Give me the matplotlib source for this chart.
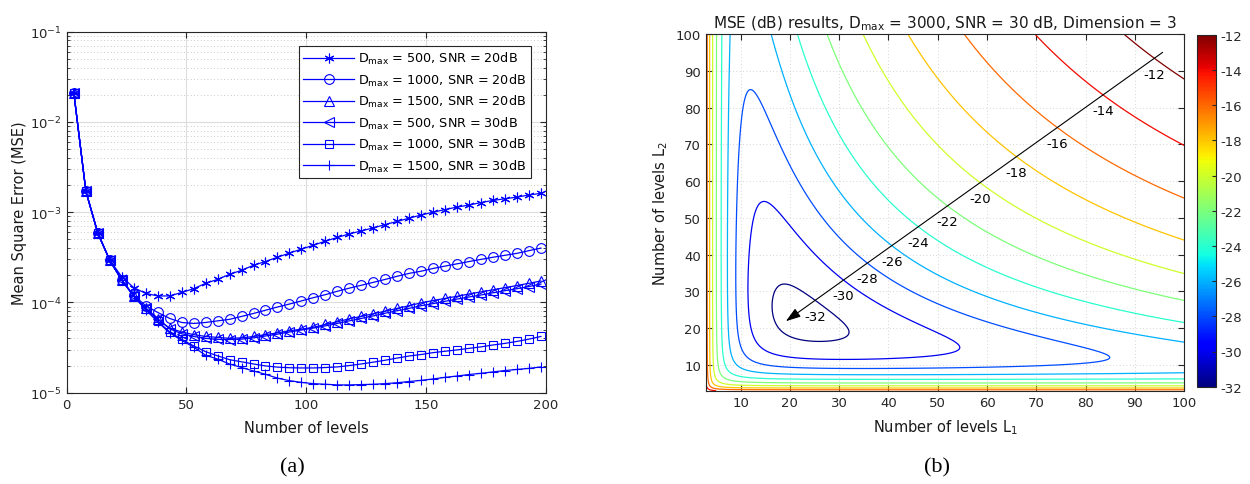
import numpy as np
import matplotlib
matplotlib.use('Agg')
import matplotlib.pyplot as plt
from matplotlib.colors import Normalize
from matplotlib.cm import ScalarMappable

plt.rcParams['font.family'] = ['DejaVu Sans']
plt.rcParams['axes.unicode_minus'] = False

# ---------------- (a) MSE vs number of levels ----------------
n_levels = np.arange(3, 199, 5)  # 3, 8, ..., 198

mse_500_20 = [2.08e-2, 1.71e-3, 5.85e-4, 2.95e-4, 1.92e-4, 1.46e-4, 1.26e-4, 1.18e-4, 1.18e-4, 1.29e-4,
              1.42e-4, 1.63e-4, 1.80e-4, 2.05e-4, 2.27e-4, 2.58e-4, 2.84e-4, 3.17e-4, 3.52e-4, 3.90e-4,
              4.30e-4, 4.78e-4, 5.25e-4, 5.75e-4, 6.20e-4, 6.70e-4, 7.30e-4, 7.90e-4, 8.60e-4, 9.30e-4,
              1.00e-3, 1.07e-3, 1.14e-3, 1.20e-3, 1.28e-3, 1.35e-3, 1.41e-3, 1.47e-3, 1.55e-3, 1.62e-3]
mse_1000_20 = [2.08e-2, 1.71e-3, 5.85e-4, 2.92e-4, 1.77e-4, 1.20e-4, 9.20e-5, 7.75e-5, 6.65e-5, 6.00e-5,
               5.85e-5, 6.00e-5, 6.25e-5, 6.50e-5, 7.00e-5, 7.55e-5, 8.20e-5, 8.90e-5, 9.60e-5, 1.04e-4,
               1.13e-4, 1.22e-4, 1.33e-4, 1.44e-4, 1.55e-4, 1.67e-4, 1.80e-4, 1.95e-4, 2.10e-4, 2.22e-4,
               2.38e-4, 2.53e-4, 2.68e-4, 2.84e-4, 3.00e-4, 3.17e-4, 3.33e-4, 3.50e-4, 3.75e-4, 4.00e-4]
mse_1500_20 = [2.08e-2, 1.71e-3, 5.85e-4, 2.92e-4, 1.77e-4, 1.18e-4, 8.60e-5, 6.50e-5, 5.20e-5, 4.70e-5,
               4.40e-5, 4.20e-5, 4.10e-5, 4.00e-5, 4.05e-5, 4.20e-5, 4.40e-5, 4.60e-5, 4.85e-5, 5.05e-5,
               5.30e-5, 5.70e-5, 6.10e-5, 6.60e-5, 7.00e-5, 7.50e-5, 8.00e-5, 8.60e-5, 9.20e-5, 9.90e-5,
               1.05e-4, 1.11e-4, 1.17e-4, 1.24e-4, 1.31e-4, 1.38e-4, 1.46e-4, 1.54e-4, 1.63e-4, 1.73e-4]
mse_500_30 = [2.08e-2, 1.71e-3, 5.85e-4, 2.92e-4, 1.77e-4, 1.18e-4, 8.70e-5, 6.60e-5, 5.10e-5, 4.50e-5,
              4.20e-5, 4.00e-5, 3.90e-5, 3.88e-5, 3.92e-5, 4.05e-5, 4.25e-5, 4.45e-5, 4.70e-5, 4.95e-5,
              5.20e-5, 5.50e-5, 5.85e-5, 6.25e-5, 6.65e-5, 7.10e-5, 7.60e-5, 8.10e-5, 8.60e-5, 9.20e-5,
              9.70e-5, 1.03e-4, 1.09e-4, 1.15e-4, 1.21e-4, 1.28e-4, 1.35e-4, 1.42e-4, 1.50e-4, 1.60e-4]
mse_1000_30 = [2.08e-2, 1.71e-3, 5.85e-4, 2.92e-4, 1.77e-4, 1.17e-4, 8.40e-5, 6.20e-5, 4.70e-5, 3.90e-5,
               3.30e-5, 2.85e-5, 2.56e-5, 2.32e-5, 2.20e-5, 2.08e-5, 1.98e-5, 1.92e-5, 1.89e-5, 1.88e-5,
               1.88e-5, 1.90e-5, 1.93e-5, 2.00e-5, 2.08e-5, 2.18e-5, 2.29e-5, 2.42e-5, 2.55e-5, 2.65e-5,
               2.78e-5, 2.88e-5, 2.98e-5, 3.10e-5, 3.22e-5, 3.38e-5, 3.52e-5, 3.70e-5, 3.92e-5, 4.20e-5]
mse_1500_30 = [2.08e-2, 1.71e-3, 5.85e-4, 2.92e-4, 1.77e-4, 1.17e-4, 8.30e-5, 6.10e-5, 4.60e-5, 3.80e-5,
               3.20e-5, 2.60e-5, 2.36e-5, 2.08e-5, 1.90e-5, 1.74e-5, 1.60e-5, 1.45e-5, 1.36e-5, 1.30e-5,
               1.26e-5, 1.24e-5, 1.22e-5, 1.22e-5, 1.23e-5, 1.24e-5, 1.26e-5, 1.29e-5, 1.33e-5, 1.37e-5,
               1.42e-5, 1.48e-5, 1.53e-5, 1.59e-5, 1.64e-5, 1.70e-5, 1.76e-5, 1.81e-5, 1.86e-5, 1.93e-5]

series = [mse_500_20, mse_1000_20, mse_1500_20, mse_500_30, mse_1000_30, mse_1500_30]
series_markers = [(6, 2, 0), 'o', '^', '<', 's', '+']
series_labels = [r'D$_{\rm max}$ = 500, SNR = 20dB',
                 r'D$_{\rm max}$ = 1000, SNR = 20dB',
                 r'D$_{\rm max}$ = 1500, SNR = 20dB',
                 r'D$_{\rm max}$ = 500, SNR = 30dB',
                 r'D$_{\rm max}$ = 1000, SNR = 30dB',
                 r'D$_{\rm max}$ = 1500, SNR = 30dB']

# ---------------- (b) MSE (dB) surface ----------------
# simple surface model: quantisation term per axis + noise term on L1*L2
quant_a = 0.0856
quant_c = 1.4
noise_b = 8.2e-10
offset_e = -4e-5
contour_levels = np.arange(-32, -11, 2)
arrow_start = (95.6, 95.0)
arrow_end = (19.2, 21.9)


def mse_db(l1, l2):
    v = quant_a / (l1 - quant_c) ** 2 + quant_a / (l2 - quant_c) ** 2 + noise_b * (l1 * l2) ** 2 + offset_e
    return 10 * np.log10(v)


W, H = 1250, 485
fig = plt.figure(figsize=(W / 100, H / 100), dpi=100)
edge = '#262626'
txt = '#1a1a1a'

# ---- left panel ----
ax1 = fig.add_axes([66.7 / W, 1 - 393.7 / H, (545.7 - 66.7) / W, (393.7 - 32.7) / H])
for vals, mk, lab in zip(series, series_markers, series_labels):
    face = 'none' if mk in ('o', '^', '<', 's') else 'b'
    ax1.plot(n_levels, vals, color='b', marker=mk, markersize=7 if mk != 's' else 5.5,
             markerfacecolor=face, markeredgecolor='b', markeredgewidth=0.8, lw=0.9, label=lab)
ax1.set_yscale('log')
ax1.set_xlim(0, 200)
ax1.set_ylim(1e-5, 1e-1)
ax1.set_xticks([0, 50, 100, 150, 200])
ax1.grid(True, which='major', color='#dcdcdc', lw=0.8)
ax1.yaxis.grid(True, which='minor', color='#b8b8b8', ls=(0, (1, 3)), lw=0.6)
ax1.set_axisbelow(True)
ax1.tick_params(which='both', direction='in', top=True, right=True, colors=edge, labelsize=9.5)
ax1.tick_params(which='major', length=4)
ax1.tick_params(which='minor', length=2)
for s in ax1.spines.values():
    s.set_color(edge)
ax1.set_xlabel('Number of levels', fontsize=10.5, color=txt, labelpad=7)
ax1.set_ylabel('Mean Square Error (MSE)', fontsize=10.5, color=txt, labelpad=2)
leg = ax1.legend(loc='upper right', bbox_to_anchor=(0.9687, 0.961), borderaxespad=0,
                 fontsize=9.2, handlelength=4.0, labelspacing=0.42, fancybox=False,
                 framealpha=1, edgecolor=edge, borderpad=0.35, handletextpad=0.3)
leg.get_frame().set_linewidth(0.8)

# ---- right panel ----
ax2 = fig.add_axes([706 / W, 1 - 391.7 / H, (1184.3 - 706) / W, (391.7 - 35) / H])
L = np.linspace(3, 100, 500)
L1, L2 = np.meshgrid(L, L)
Z = mse_db(L1, L2)
norm = Normalize(vmin=-32, vmax=-12)
ax2.contour(L1, L2, Z, levels=contour_levels, cmap='jet', norm=norm, linewidths=0.9)
ax2.set_xlim(3, 100)
ax2.set_ylim(3, 100)
ax2.set_xticks(range(10, 101, 10))
ax2.set_yticks(range(10, 101, 10))
ax2.grid(True, color='#c8c8c8', ls=(0, (1, 3)), lw=0.6)
ax2.set_axisbelow(True)
ax2.tick_params(direction='in', top=True, right=True, colors=edge, labelsize=9.5, length=4)
for s in ax2.spines.values():
    s.set_color(edge)
ax2.set_xlabel('Number of levels L$_{1}$', fontsize=10.5, color=txt, labelpad=6)
ax2.set_ylabel('Number of levels L$_{2}$', fontsize=10.5, color=txt, labelpad=4)
ax2.set_title(r'MSE (dB) results, D$_{\rm max}$ = 3000, SNR = 30 dB, Dimension = 3',
              fontsize=11, color=txt, pad=5)

ax2.annotate('', xy=arrow_end, xytext=arrow_start,
             arrowprops=dict(arrowstyle='-|>,head_length=0.9,head_width=0.3', color='k',
                             lw=0.8, shrinkA=0, shrinkB=0))
# label each level where the arrow line crosses it (closest crossing to the tail)
t = np.linspace(0, 1, 3000)
px = arrow_start[0] + (arrow_end[0] - arrow_start[0]) * t
py = arrow_start[1] + (arrow_end[1] - arrow_start[1]) * t
pz = mse_db(px, py)
for lv in contour_levels:
    d = pz - lv
    idx = np.where(np.sign(d[:-1]) != np.sign(d[1:]))[0]
    if len(idx) == 0:
        continue
    i = idx[0]
    ax2.text(px[i], py[i] - 4.3, '%d' % lv, fontsize=9.5, ha='center', va='center', color='k')

cax = fig.add_axes([1196.7 / W, 1 - 387.7 / H, 19 / W, (387.7 - 35.7) / H])
cb = fig.colorbar(ScalarMappable(norm=norm, cmap='jet'), cax=cax, ticks=contour_levels)
cb.outline.set_edgecolor(edge)
cb.outline.set_linewidth(0.8)
cax.tick_params(direction='in', colors=edge, labelsize=9.5, length=3)

fig.text(292 / W, 1 - 468 / H, '(a)', family='Liberation Serif', fontsize=16, ha='center', va='center')
fig.text(937 / W, 1 - 468 / H, '(b)', family='Liberation Serif', fontsize=16, ha='center', va='center')

fig.savefig('out.png', dpi=100)
